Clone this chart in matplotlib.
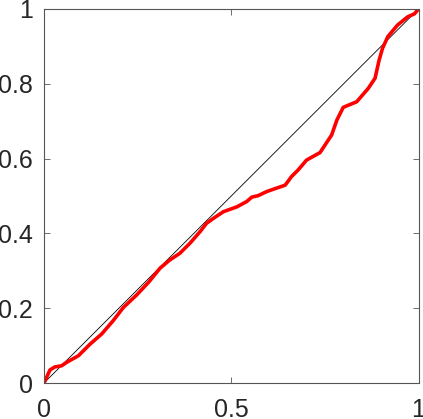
import matplotlib
matplotlib.use("Agg")
import matplotlib.pyplot as plt

x_vals = [0.0, 0.016, 0.029, 0.047, 0.06, 0.092, 0.123, 0.154, 0.185, 0.212, 0.247, 0.279,
          0.31, 0.336, 0.363, 0.39, 0.417, 0.434, 0.452, 0.479, 0.515, 0.541, 0.555, 0.572,
          0.595, 0.644, 0.661, 0.679, 0.701, 0.737, 0.768, 0.782, 0.799, 0.835, 0.866, 0.884,
          0.895, 0.904, 0.918, 0.944, 0.971, 0.989, 1.0]
y_vals = [0.0, 0.035, 0.043, 0.046, 0.055, 0.073, 0.104, 0.131, 0.167, 0.202, 0.235, 0.269,
          0.307, 0.329, 0.347, 0.374, 0.405, 0.427, 0.44, 0.458, 0.471, 0.485, 0.497, 0.501,
          0.512, 0.529, 0.552, 0.57, 0.596, 0.616, 0.663, 0.703, 0.737, 0.752, 0.788, 0.815,
          0.864, 0.895, 0.926, 0.957, 0.979, 0.987, 1.0]
diag = [0, 1]
x_ticks = [0, 0.5, 1]
x_ticklabels = ["0", "0.5", "1"]
y_ticks = [0, 0.2, 0.4, 0.6, 0.8, 1]
y_ticklabels = ["0", "0.2", "0.4", "0.6", "0.8", "1"]

plt.rcParams['font.family'] = ['Liberation Sans', 'DejaVu Sans']
fig = plt.figure(figsize=(4.23, 4.19), dpi=100)
ax = fig.add_axes([44/423, 36/419, 374.5/423, 374/419])
ax.plot(diag, diag, color='black', lw=0.6)
ax.plot(x_vals, y_vals, color='red', lw=2.6, solid_joinstyle='round', solid_capstyle='round')
ax.set_xlim(0, 1)
ax.set_ylim(0, 1)
ax.set_xticks(x_ticks)
ax.set_xticklabels(x_ticklabels)
ax.set_yticks(y_ticks)
ax.set_yticklabels(y_ticklabels)
axc = '#262626'
for s in ax.spines.values():
    s.set_color('#555555')
    s.set_linewidth(0.8)
ax.tick_params(direction='in', length=4, width=0.6, color='#555555', labelsize=18,
               labelcolor=axc, top=True, right=True)
ax.tick_params(axis='y', pad=8)
ax.tick_params(axis='x', pad=11)
fig.savefig("out.png", dpi=100)
